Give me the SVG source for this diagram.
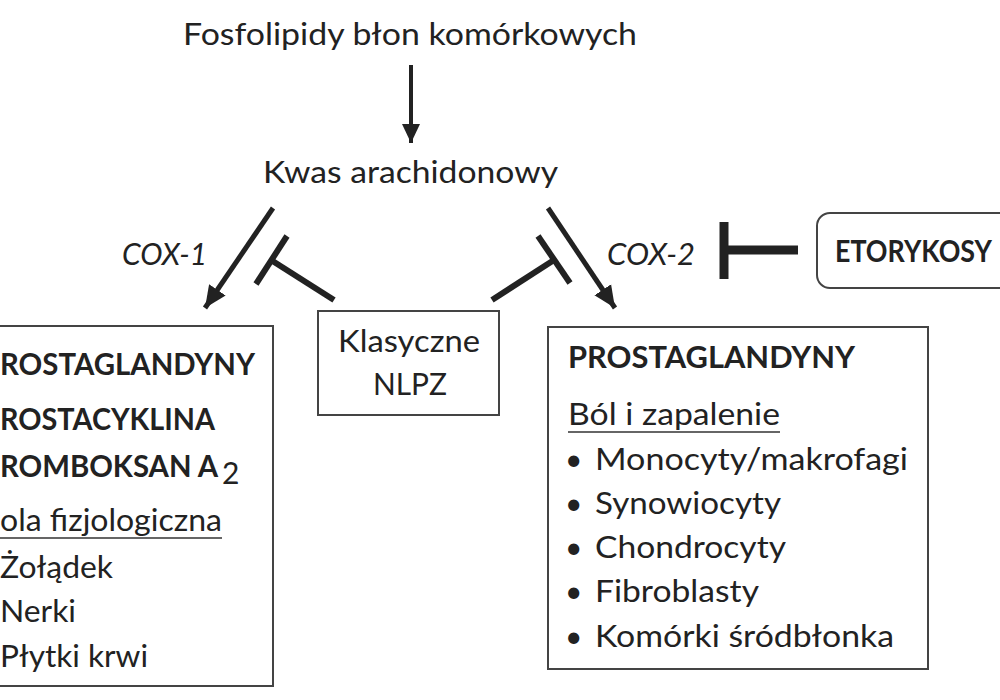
<svg xmlns="http://www.w3.org/2000/svg" width="1000" height="700" viewBox="0 0 1000 700">
<defs>
<style>
text{font-family:Lato,"Open Sans","Liberation Sans",sans-serif;fill:#222;font-size:30px}
.b{font-weight:bold}
.i{font-style:italic}
.box{fill:#fff;stroke:#444;stroke-width:2}
.ln{stroke:#222;fill:none;stroke-linecap:butt}
.ul{stroke:#333;stroke-width:1.6}
</style>
<marker id="ah" markerUnits="userSpaceOnUse" markerWidth="24" markerHeight="24" viewBox="0 0 24 24" refX="22" refY="12" orient="auto">
<path d="M0,2 L22,12 L0,22 Z" fill="#222"/>
</marker>
<marker id="ahs" markerUnits="userSpaceOnUse" markerWidth="20" markerHeight="20" viewBox="0 0 20 20" refX="19" refY="10" orient="auto">
<path d="M0,1 L19,10 L0,19 Z" fill="#222"/>
</marker>
</defs>
<rect width="1000" height="700" fill="#fff"/>

<g id="fosfolipidy"><text x="183" y="45" textLength="454" lengthAdjust="spacingAndGlyphs">Fosfolipidy błon komórkowych</text></g>
<g id="kwas"><text x="263" y="183" textLength="295" lengthAdjust="spacingAndGlyphs">Kwas arachidonowy</text></g>

<g id="nlpz">
<rect class="box" x="318" y="311" width="181" height="104"/>
<text x="338" y="352" textLength="142" lengthAdjust="spacingAndGlyphs">Klasyczne</text>
<text x="373" y="395" textLength="74" lengthAdjust="spacingAndGlyphs">NLPZ</text>
</g>

<g id="etorykoksyb">
<path class="box" d="M1000,213 H830 A13,13 0 0 0 817,226 V275 A13,13 0 0 0 830,288 H1000"/>
<text class="b" x="835" y="262" textLength="157" lengthAdjust="spacingAndGlyphs">ETORYKOSY</text>
</g>

<g id="cox1-box">
<rect class="box" x="-10" y="326" width="283" height="360"/>
<text class="b" x="0" y="375" textLength="255" lengthAdjust="spacingAndGlyphs">ROSTAGLANDYNY</text>
<text class="b" x="0" y="430" textLength="215" lengthAdjust="spacingAndGlyphs">ROSTACYKLINA</text>
<text class="b" x="0" y="477" textLength="218" lengthAdjust="spacingAndGlyphs">ROMBOKSAN A</text>
<text x="222" y="484" font-size="19">2</text>
<text x="0" y="531" textLength="222" lengthAdjust="spacingAndGlyphs">ola fizjologiczna</text>
<line class="ul" x1="0" y1="538" x2="222" y2="538"/>
<text x="0" y="578" textLength="113" lengthAdjust="spacingAndGlyphs">Żołądek</text>
<text x="0" y="622" textLength="76" lengthAdjust="spacingAndGlyphs">Nerki</text>
<text x="0" y="667" textLength="148" lengthAdjust="spacingAndGlyphs">Płytki krwi</text>
</g>

<g id="cox2-box">
<rect class="box" x="548" y="327" width="380" height="342"/>
<text class="b" x="568" y="368" textLength="287" lengthAdjust="spacingAndGlyphs">PROSTAGLANDYNY</text>
<text x="568" y="425" textLength="212" lengthAdjust="spacingAndGlyphs">Ból i zapalenie</text>
<line class="ul" x1="568" y1="432" x2="780" y2="432"/>
<text x="565" y="470">•</text>
<text x="595" y="470" textLength="313" lengthAdjust="spacingAndGlyphs">Monocyty/makrofagi</text>
<text x="565" y="514">•</text>
<text x="595" y="514" textLength="186" lengthAdjust="spacingAndGlyphs">Synowiocyty</text>
<text x="565" y="558">•</text>
<text x="595" y="558" textLength="191" lengthAdjust="spacingAndGlyphs">Chondrocyty</text>
<text x="565" y="602">•</text>
<text x="595" y="602" textLength="164" lengthAdjust="spacingAndGlyphs">Fibroblasty</text>
<text x="565" y="647">•</text>
<text x="595" y="647" textLength="299" lengthAdjust="spacingAndGlyphs">Komórki śródbłonka</text>
</g>

<g id="labels">
<text class="i" x="122" y="265" textLength="85" lengthAdjust="spacingAndGlyphs">COX-1</text>
<text class="i" x="607" y="265" textLength="88" lengthAdjust="spacingAndGlyphs">COX-2</text>
</g>

<g id="connectors">
<line class="ln" x1="411" y1="65" x2="411" y2="143" stroke-width="4" marker-end="url(#ahs)"/>
<line class="ln" x1="273" y1="208" x2="205" y2="308" stroke-width="5" marker-end="url(#ah)"/>
<line class="ln" x1="548" y1="208" x2="615" y2="308" stroke-width="5" marker-end="url(#ah)"/>
<line class="ln" x1="287" y1="236" x2="256" y2="284" stroke-width="6"/>
<line class="ln" x1="271" y1="260" x2="334" y2="300" stroke-width="6"/>
<line class="ln" x1="538" y1="236" x2="570" y2="283" stroke-width="6"/>
<line class="ln" x1="554" y1="260" x2="492" y2="300" stroke-width="6"/>
<line class="ln" x1="724" y1="222" x2="724" y2="279" stroke-width="9"/>
<line class="ln" x1="724" y1="250" x2="798" y2="250" stroke-width="9"/>
</g>
</svg>
